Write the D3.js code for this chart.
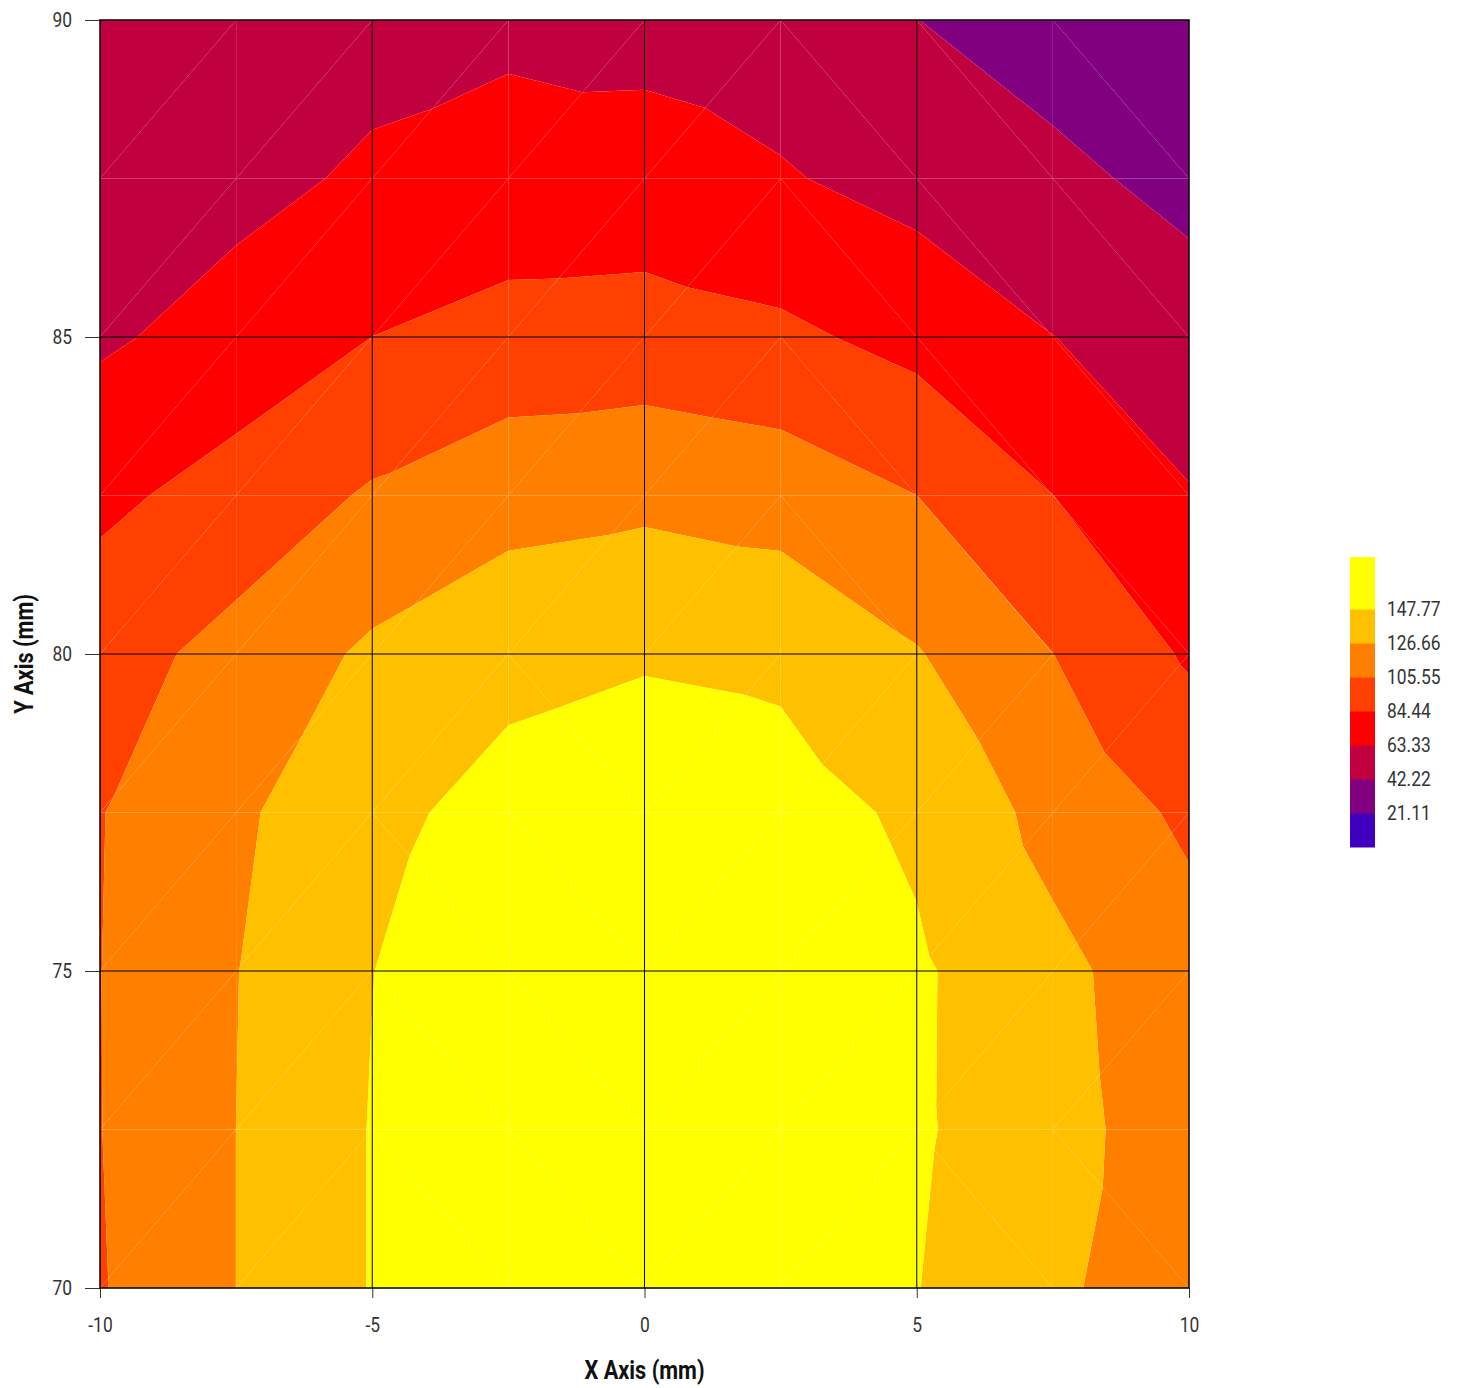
<!DOCTYPE html>
<html><head><meta charset="utf-8">
<script src="https://cdn.jsdelivr.net/npm/d3@7"></script>
<style>
body{margin:0;background:#fff;}
svg text{font-family:Roboto,"Liberation Sans",sans-serif;}
</style></head><body>
<svg id="chart" width="1458" height="1388"></svg>
<script>
// ---- data (values at grid nodes) ----
const xValues = [-10, -7.5, -5, -2.5, 0, 2.5, 5, 7.5, 10];
const yValues = [90, 87.5, 85, 82.5, 80, 77.5, 75, 72.5, 70];
const zAtY90   = [46, 48, 56.2, 59.3, 56.75, 52.9, 42.43, 32, 28];
const zAtY87_5 = [53, 57.3, 66.5, 71.2, 71.7, 65.1, 56.1, 47.3, 36];
const zAtY85   = [60.2, 71.6, 84.5, 91.9, 93.3, 88.7, 78, 63.6, 52.4];
const zAtY82_5 = [79.8, 92.6, 107.9, 118.8, 121.9, 117.6, 105.6, 84.6, 64.3];
const zAtY80   = [97, 112.2, 130.2, 141.3, 145.8, 143.5, 128, 105.7, 81.9];
const zAtY77_5 = [104.8, 123.3, 142, 155.7, 160, 156.4, 144.1, 120, 101.7];
const zAtY75   = [105.3, 126.2, 147.5, 163, 168, 163, 150.6, 132, 113.8];
const zAtY72_5 = [105.2, 126.7, 148.7, 164, 168.88, 164, 150.4, 133.4, 116];
const zAtY70   = [104.2, 126.7, 148.7, 163, 167, 162, 148.3, 130, 115];
const levels = [21.11, 42.22, 63.33, 84.44, 105.55, 126.66, 147.77];
const levelLabels = ["21.11", "42.22", "63.33", "84.44", "105.55", "126.66", "147.77"];
const bandColors = ["#4000c0", "#800080", "#c0003f", "#ff0000", "#ff4000", "#ff8000", "#ffc000", "#ffff00"];
const xTicks = [-10, -5, 0, 5, 10];
const yTicks = [70, 75, 80, 85, 90];
const xTitle = "X Axis (mm)";
const yTitle = "Y Axis (mm)";
// mesh diagonal per cell (u = rising "/", d = falling "\"), rows top to bottom
const cellDiagonals = ["uuuuuddd","uuuuuddd","uuuuuddd","uuuuuddd","uuuduuuu","uudduuuu","uudduuuu","uudduudd"];

const zGrid = [zAtY90, zAtY87_5, zAtY85, zAtY82_5, zAtY80, zAtY77_5, zAtY75, zAtY72_5, zAtY70];
const SX = 0.87; // horizontal squeeze to imitate a condensed face

const svg = d3.select("#chart");
const x = d3.scaleLinear().domain([-10, 10]).range([100, 1189]);
const y = d3.scaleLinear().domain([70, 90]).range([1288, 20]);

// ---- triangles ----
const node = (r, c) => ({x: xValues[c], y: yValues[r], v: zGrid[r][c]});
const triangles = [];
for (let r = 0; r < yValues.length - 1; r++) {
  for (let c = 0; c < xValues.length - 1; c++) {
    const TL = node(r, c), TR = node(r, c + 1), BL = node(r + 1, c), BR = node(r + 1, c + 1);
    if (cellDiagonals[r][c] === "u") triangles.push([TL, TR, BL], [BL, TR, BR]);
    else triangles.push([TL, TR, BR], [TL, BR, BL]);
  }
}
function clip(poly, t, sign) { // keep sign*(v - t) >= 0
  const out = [];
  for (let i = 0; i < poly.length; i++) {
    const a = poly[i], b = poly[(i + 1) % poly.length];
    const fa = sign * (a.v - t), fb = sign * (b.v - t);
    if (fa >= 0) out.push(a);
    if ((fa >= 0) !== (fb >= 0)) {
      const s = fa / (fa - fb);
      out.push({x: a.x + s * (b.x - a.x), y: a.y + s * (b.y - a.y), v: t});
    }
  }
  return out;
}
const pieces = [];
triangles.forEach(tri => {
  bandColors.forEach((col, k) => {
    let p = tri;
    if (k > 0) p = clip(p, levels[k - 1], 1);
    if (p.length >= 3 && k < levels.length) p = clip(p, levels[k], -1);
    if (p.length >= 3) pieces.push({pts: p, color: col});
  });
});
const line = d3.line().x(d => x(d.x)).y(d => y(d.y));
svg.append("g").selectAll("path").data(pieces).join("path")
  .attr("d", d => line(d.pts) + "Z")
  .attr("fill", d => d.color)
  .attr("stroke", "none");

// ---- grid lines ----
const grid = svg.append("g").attr("stroke", "#000").attr("stroke-width", 1);
[-5, 0, 5].forEach(v => grid.append("line").attr("x1", x(v)).attr("x2", x(v)).attr("y1", y(90)).attr("y2", y(70)));
[75, 80, 85].forEach(v => grid.append("line").attr("y1", y(v)).attr("y2", y(v)).attr("x1", x(-10)).attr("x2", x(10)));

function condense(sel) {
  sel.each(function () {
    const t = d3.select(this);
    const xx = +(t.attr("x") || 0);
    t.attr("x", xx / SX).attr("transform", `scale(${SX},1)`);
  });
}

// ---- axes ----
const xAxis = svg.append("g").attr("transform", `translate(0,${y(70)})`)
  .call(d3.axisBottom(x).tickValues(xTicks).tickSize(10).tickPadding(20).tickFormat(d => String(d)));
const yAxis = svg.append("g").attr("transform", `translate(${x(-10)},0)`)
  .call(d3.axisLeft(y).tickValues(yTicks).tickSize(15).tickPadding(13).tickFormat(d => String(d)));
[xAxis, yAxis].forEach(g => {
  g.select(".domain").remove();
  g.selectAll(".tick line").attr("stroke", "#333");
  g.selectAll(".tick text").attr("fill", "#333").style("font-size", "20px").call(condense);
});

// frame
svg.append("rect").attr("x", x(-10)).attr("y", y(90)).attr("width", x(10) - x(-10)).attr("height", y(70) - y(90))
  .attr("fill", "none").attr("stroke", "#000").attr("stroke-width", 1.5);

// titles
svg.append("text").attr("transform", `translate(${(x(-10) + x(10)) / 2},1379) scale(${SX},1)`).attr("text-anchor", "middle")
  .style("font-size", "25px").style("font-weight", "bold").attr("fill", "#111").text(xTitle);
svg.append("text").attr("transform", `translate(33,${(y(70) + y(90)) / 2}) rotate(-90) scale(${SX},1)`).attr("text-anchor", "middle")
  .style("font-size", "25px").style("font-weight", "bold").attr("fill", "#111").text(yTitle);

// ---- legend ----
const ls = d3.scaleLinear().domain([147.77, 21.11]).range([609, 813]);
const legend = svg.append("g");
const bandEdges = [null].concat(levels).concat([null]);
bandColors.forEach((col, k) => {
  const lo = bandEdges[k], hi = bandEdges[k + 1];
  const yBottom = lo === null ? ls(0) : ls(lo);
  const yTop = hi === null ? ls(147.77) - 52 : ls(hi);
  legend.append("rect").attr("x", 1350).attr("width", 25).attr("y", yTop).attr("height", yBottom - yTop + 0.5).attr("fill", col);
});
levels.forEach((lv, i) => {
  legend.append("text").attr("x", 1387).attr("y", ls(lv)).attr("dy", "0.35em")
    .style("font-size", "20px").attr("fill", "#333").text(levelLabels[i]).call(condense);
});
</script>
</body></html>
